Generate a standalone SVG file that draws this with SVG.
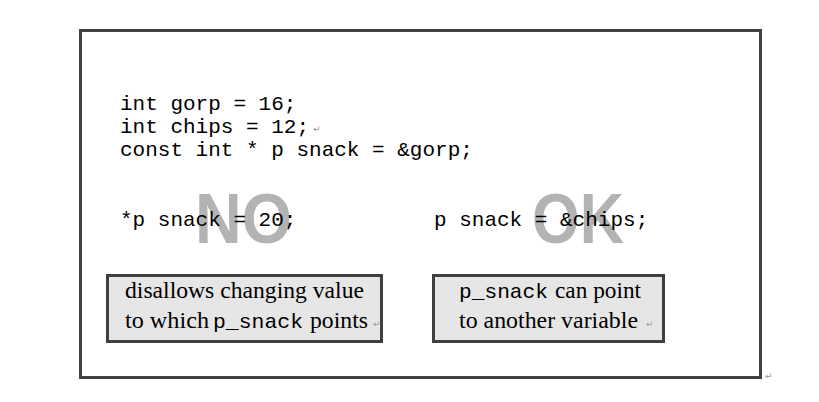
<svg xmlns="http://www.w3.org/2000/svg" width="819" height="402" viewBox="0 0 819 402">
<style>
.code{font-family:"Liberation Mono","Courier New",monospace;font-size:21px;fill:#000}
.big{font-family:"Liberation Sans",Arial,sans-serif;font-weight:bold;font-size:70px;fill:#b3b3b3}
.box{fill:#e6e6e6;stroke:#404040;stroke-width:3}
.lbl{font-family:"Liberation Serif","Times New Roman",serif;font-size:23.5px;fill:#000}
.mono{font-family:"Liberation Mono","Courier New",monospace;font-size:21px;fill:#000}
.ret{font-family:"DejaVu Sans",sans-serif;font-size:9px;fill:#999}
</style>
<rect width="819" height="402" fill="#fff"/>
<g id="frame">
<rect x="80.5" y="30.5" width="680" height="347" fill="none" stroke="#404040" stroke-width="3"/>
<text class="ret" x="765" y="379">↵</text>
</g>
<g id="watermarks">
<text class="big" x="195" y="243" textLength="97" lengthAdjust="spacingAndGlyphs">NO</text>
<text class="big" x="532" y="243" textLength="92" lengthAdjust="spacingAndGlyphs">OK</text>
</g>
<g id="code">
<text class="code" x="120" y="110">int gorp = 16;</text>
<text class="code" x="120" y="133">int chips = 12;</text>
<text class="ret" x="313" y="132">↵</text>
<text class="code" x="120" y="156">const int * p snack = &amp;gorp;</text>
<text class="code" x="120" y="226">*p snack = 20;</text>
<text class="code" x="434" y="226">p snack = &amp;chips;</text>
</g>
<g id="box-no">
<rect class="box" x="107.5" y="275.5" width="274" height="66"/>
<text class="lbl" x="125" y="298" textLength="239" lengthAdjust="spacingAndGlyphs">disallows changing value</text>
<text class="lbl" x="125" y="328" textLength="84" lengthAdjust="spacingAndGlyphs">to which</text>
<text class="mono" x="213" y="328" textLength="90" lengthAdjust="spacingAndGlyphs">p_snack</text>
<text class="lbl" x="310" y="328" textLength="58" lengthAdjust="spacingAndGlyphs">points</text>
<text class="ret" x="373" y="327">↵</text>
</g>
<g id="box-ok">
<rect class="box" x="433.5" y="275.5" width="230" height="66"/>
<text class="mono" x="459" y="298" textLength="89" lengthAdjust="spacingAndGlyphs">p_snack</text>
<text class="lbl" x="555" y="298" textLength="86" lengthAdjust="spacingAndGlyphs">can point</text>
<text class="lbl" x="459" y="328" textLength="179" lengthAdjust="spacingAndGlyphs">to another variable</text>
<text class="ret" x="646" y="327">↵</text>
</g>
</svg>
